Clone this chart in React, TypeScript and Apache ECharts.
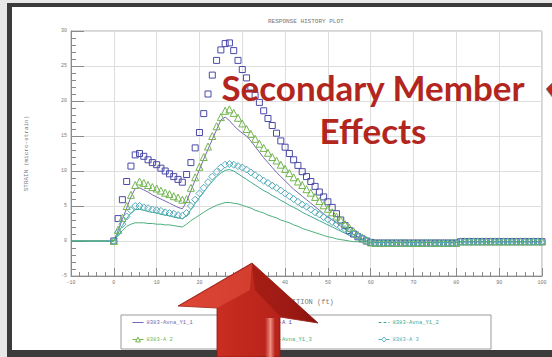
import React, { useEffect, useRef } from "react";
import * as echarts from "echarts";

// Text
const TITLE = "RESPONSE HISTORY PLOT";
const X_NAME = "POSITION (ft)";
const Y_NAME = "STRAIN (micro-strain)";
const NOTE_LINE_1 = "Secondary Member";
const NOTE_LINE_2 = "Effects";

// Axis ranges (ft / micro-strain)
const X_MIN = -10;
const X_MAX = 100;
const X_STEP = 10;
const Y_MIN = -5;
const Y_MAX = 30;
const Y_STEP = 5;

// Gauge traces are sampled every foot; lines start at -10 ft, marker traces at 0 ft
const LINE_START_FT = -10;
const MARKER_START_FT = 0;
const SAMPLE_FT = 1;

const NAMES = [
  "8383-Avna_Y1_1",
  "8383-A 1",
  "8383-Avna_Y1_2",
  "8383-A 2",
  "8383-Avna_Y1_3",
  "8383-A 3",
];

// 8383-Avna_Y1_1 (solid line), -10 .. 100 ft
const avnaY1_1 = [
  0, 0, 0, 0, 0, 0, 0, 0, 0, 0, 0,
  1.5, 3.1, 4.7, 6.3, 7.5, 7.6, 7.3, 7.0, 6.6, 6.3,
  6.0, 5.7, 5.4, 5.1, 4.8, 4.6, 5.6, 7.2, 8.7, 10.2,
  11.7, 13.1, 14.5, 15.9, 17.3, 17.7, 17.2, 16.5, 15.9, 15.4,
  15.0, 14.3, 13.5, 12.7, 11.9, 11.2, 10.5, 9.8, 9.2, 8.6,
  8.0, 7.4, 6.9, 6.4, 5.9, 5.4, 4.9, 4.4, 3.9, 3.4,
  3.0, 2.6, 2.1, 1.7, 1.3, 0.9, 0.6, 0.3, 0.0, -0.2,
  -0.2, -0.2, -0.2, -0.2, -0.2, -0.2, -0.2, -0.2, -0.2, -0.2,
  -0.2, -0.2, -0.2, -0.2, -0.2, -0.2, -0.2, -0.2, -0.2, -0.2,
  -0.1, -0.1, -0.1, -0.1, -0.1, -0.1, -0.1, -0.1, -0.1, -0.1,
  -0.1, -0.1, -0.1, -0.1, -0.1, -0.1, -0.1, -0.1, -0.1, -0.1,
];

// 8383-A 1 (squares), 0 .. 100 ft
const a1 = [
  0, 3.2, 5.9, 8.5, 10.7, 12.3, 12.5, 12.1, 11.6, 11.2, 10.9,
  10.4, 10.0, 9.6, 9.2, 8.8, 8.4, 9.5, 11.2, 13.3, 15.5,
  18.2, 21.0, 23.7, 25.8, 27.3, 28.2, 28.3, 27.2, 25.8, 24.5,
  23.3, 22.0, 20.8, 19.8, 18.6, 17.5, 16.5, 15.4, 14.3, 13.4,
  12.5, 11.6, 10.8, 9.9, 9.2, 8.5, 7.8, 7.0, 6.3, 5.6,
  4.8, 3.9, 3.0, 2.2, 1.5, 1.0, 0.6, 0.3, 0.0, -0.2,
  -0.3, -0.3, -0.3, -0.3, -0.3, -0.3, -0.3, -0.3, -0.3, -0.3,
  -0.3, -0.3, -0.3, -0.3, -0.3, -0.3, -0.3, -0.3, -0.3, -0.3,
  -0.1, -0.1, -0.1, -0.1, -0.1, -0.1, -0.1, -0.1, -0.1, -0.1,
  -0.1, -0.1, -0.1, -0.1, -0.1, -0.1, -0.1, -0.1, -0.1, -0.1,
];

// 8383-Avna_Y1_2 (line), -10 .. 100 ft
const avnaY1_2 = [
  0, 0, 0, 0, 0, 0, 0, 0, 0, 0, 0,
  1.1, 2.2, 3.2, 4.0, 4.5, 4.5, 4.4, 4.2, 4.1, 4.0,
  3.8, 3.7, 3.6, 3.4, 3.3, 3.2, 3.6, 4.5, 5.4, 6.2,
  7.0, 7.8, 8.5, 9.2, 9.7, 10.1, 10.2, 10.0, 9.6, 9.2,
  8.8, 8.4, 8.0, 7.6, 7.2, 6.9, 6.5, 6.2, 5.8, 5.5,
  5.1, 4.8, 4.5, 4.1, 3.8, 3.5, 3.2, 2.9, 2.6, 2.3,
  2.0, 1.7, 1.4, 1.1, 0.8, 0.6, 0.4, 0.2, 0.0, -0.2,
  -0.2, -0.2, -0.2, -0.2, -0.2, -0.2, -0.2, -0.2, -0.2, -0.2,
  -0.2, -0.2, -0.2, -0.2, -0.2, -0.2, -0.2, -0.2, -0.2, -0.2,
  -0.1, -0.1, -0.1, -0.1, -0.1, -0.1, -0.1, -0.1, -0.1, -0.1,
  -0.1, -0.1, -0.1, -0.1, -0.1, -0.1, -0.1, -0.1, -0.1, -0.1,
];

// 8383-A 2 (triangles), 0 .. 100 ft
const a2 = [
  0, 1.6, 3.3, 5.0, 6.6, 8.0, 8.5, 8.3, 8.0, 7.7, 7.5,
  7.2, 6.9, 6.7, 6.4, 6.2, 5.9, 6.0, 7.6, 9.1, 10.6,
  12.0, 13.5, 15.0, 16.4, 17.7, 18.6, 18.8, 18.3, 17.6, 16.8,
  16.0, 15.3, 14.6, 13.9, 13.3, 12.6, 12.0, 11.5, 10.9, 10.3,
  9.7, 9.1, 8.5, 8.0, 7.4, 6.9, 6.3, 5.7, 5.1, 4.6,
  4.1, 3.5, 3.0, 2.4, 1.9, 1.4, 0.9, 0.5, 0.1, -0.2,
  -0.25, -0.25, -0.25, -0.25, -0.25, -0.25, -0.25, -0.25, -0.25, -0.25,
  -0.25, -0.25, -0.25, -0.25, -0.25, -0.25, -0.25, -0.25, -0.25, -0.25,
  -0.05, -0.05, -0.05, -0.05, -0.05, -0.05, -0.05, -0.05, -0.05, -0.05,
  -0.05, -0.05, -0.05, -0.05, -0.05, -0.05, -0.05, -0.05, -0.05, -0.05,
];

// 8383-Avna_Y1_3 (line), -10 .. 100 ft
const avnaY1_3 = [
  0, 0, 0, 0, 0, 0, 0, 0, 0, 0, 0,
  0.8, 1.5, 2.1, 2.4, 2.6, 2.6, 2.6, 2.5, 2.5, 2.4,
  2.4, 2.3, 2.3, 2.2, 2.1, 2.0, 2.4, 2.9, 3.3, 3.7,
  4.1, 4.5, 4.8, 5.1, 5.3, 5.5, 5.5, 5.4, 5.3, 5.1,
  4.9, 4.7, 4.4, 4.2, 4.0, 3.7, 3.5, 3.3, 3.0, 2.8,
  2.6, 2.3, 2.1, 1.8, 1.6, 1.4, 1.2, 1.0, 0.8, 0.6,
  0.5, 0.3, 0.2, 0.1, 0.0, -0.1, -0.1, -0.1, -0.1, -0.2,
  -0.2, -0.2, -0.2, -0.2, -0.2, -0.2, -0.2, -0.2, -0.2, -0.2,
  -0.2, -0.2, -0.2, -0.2, -0.2, -0.2, -0.2, -0.2, -0.2, -0.2,
  -0.1, -0.1, -0.1, -0.1, -0.1, -0.1, -0.1, -0.1, -0.1, -0.1,
  -0.1, -0.1, -0.1, -0.1, -0.1, -0.1, -0.1, -0.1, -0.1, -0.1,
];

// 8383-A 3 (diamonds), 0 .. 100 ft
const a3 = [
  0, 1.2, 2.4, 3.5, 4.4, 5.0, 5.0, 4.8, 4.7, 4.5, 4.4,
  4.3, 4.1, 4.0, 3.9, 3.7, 3.6, 4.0, 5.0, 5.9, 6.8,
  7.6, 8.4, 9.2, 9.9, 10.5, 10.9, 11.0, 10.9, 10.7, 10.5,
  10.2, 9.8, 9.4, 9.0, 8.6, 8.3, 7.9, 7.6, 7.2, 6.8,
  6.4, 6.0, 5.6, 5.2, 4.9, 4.5, 4.1, 3.8, 3.4, 3.1,
  2.7, 2.4, 2.0, 1.7, 1.3, 1.0, 0.7, 0.4, 0.1, -0.2,
  -0.3, -0.3, -0.3, -0.3, -0.3, -0.3, -0.3, -0.3, -0.3, -0.3,
  -0.3, -0.3, -0.3, -0.3, -0.3, -0.3, -0.3, -0.3, -0.3, -0.3,
  -0.1, -0.1, -0.1, -0.1, -0.1, -0.1, -0.1, -0.1, -0.1, -0.1,
  -0.1, -0.1, -0.1, -0.1, -0.1, -0.1, -0.1, -0.1, -0.1, -0.1,
];

const COLORS = ["#7567b3", "#4b4aa8", "#3fa88e", "#72b64e", "#4bae7a", "#52acbb"];

const toPairs = (vals: number[], startFt: number) =>
  vals.map((v, i) => [startFt + i * SAMPLE_FT, v]);

const MONO = "'Liberation Mono', 'DejaVu Sans Mono', monospace";
const CALLOUT_FONT = "Lato, 'Open Sans', sans-serif";
const CALLOUT_RED = "#b3261e";
const CLEAR = "rgba(255,255,255,0)";

export default function App() {
  const ref = useRef<HTMLDivElement>(null);

  useEffect(() => {
    if (!ref.current) return;
    const chart = echarts.init(ref.current, undefined, { renderer: "svg" });

    const lineSeries = (name: string, vals: number[], color: string) => ({
      name,
      type: "line",
      data: toPairs(vals, LINE_START_FT),
      symbol: "none",
      lineStyle: { color, width: 1 },
      itemStyle: { color },
      z: 3,
    });

    const markerSeries = (
      name: string,
      vals: number[],
      color: string,
      symbol: string,
      size: number | number[]
    ) => ({
      name,
      type: "line",
      data: toPairs(vals, MARKER_START_FT),
      symbol,
      symbolSize: size,
      showSymbol: true,
      lineStyle: { width: 0, opacity: 0, color },
      itemStyle: { color: CLEAR, borderColor: color, borderWidth: 1 },
      z: 4,
    });

    // one legend block per entry, laid out as 3 columns x 2 rows
    const legendCols = [132, 251, 378];
    const legendRows = [319.5, 336.5];
    const legends = NAMES.map((name, i) => {
      const isMarker = i % 2 === 1;
      return {
        left: legendCols[i % 3],
        top: legendRows[Math.floor(i / 3)],
        padding: 0,
        itemWidth: 11,
        itemHeight: 6,
        selectedMode: false,
        data: [name],
        lineStyle: {
          width: 1,
          opacity: 1,
          color: COLORS[i],
          type: i === 2 ? [3, 2] : "solid",
        },
        itemStyle: isMarker
          ? { color: "#ffffff", borderColor: COLORS[i], borderWidth: 1, opacity: 1 }
          : { opacity: 0, borderWidth: 0 },
        textStyle: { fontSize: 5.5, fontFamily: MONO, color: COLORS[i], padding: [0, 0, 0, -2] },
      };
    });

    const calloutText = (text: string, y: number) => ({
      type: "text",
      z: 100,
      style: {
        text,
        x: 373,
        y,
        fill: CALLOUT_RED,
        fontSize: 35,
        fontWeight: "bold",
        fontFamily: CALLOUT_FONT,
        align: "center",
        textAlign: "center",
        verticalAlign: "middle",
        textVerticalAlign: "middle",
      },
    });

    chart.setOption({
      animation: false,
      title: {
        text: TITLE,
        left: 268,
        top: 18,
        padding: 0,
        textStyle: { fontSize: 6, fontFamily: MONO, color: "#777", fontWeight: "normal" },
      },
      grid: {
        left: 71,
        top: 31,
        width: 471,
        height: 245,
        show: true,
        borderColor: "#aaaaaa",
        borderWidth: 1,
        backgroundColor: "transparent",
      },
      legend: legends,
      xAxis: {
        type: "value",
        min: X_MIN,
        max: X_MAX,
        interval: X_STEP,
        name: X_NAME,
        nameLocation: "middle",
        nameGap: 22,
        nameTextStyle: { fontSize: 7, fontFamily: MONO, color: "#777" },
        axisLine: { show: true, onZero: false, lineStyle: { color: "#8a8a8a", width: 1 } },
        axisTick: { show: true, inside: true, length: 8, lineStyle: { color: "#8a8a8a" } },
        minorTick: { show: true, splitNumber: 5, length: 4, lineStyle: { color: "#8a8a8a" } },
        axisLabel: { fontSize: 5, fontFamily: MONO, color: "#777", margin: 4 },
        splitLine: { show: true, lineStyle: { color: "#dedede", width: 1 } },
      },
      yAxis: {
        type: "value",
        min: Y_MIN,
        max: Y_MAX,
        interval: Y_STEP,
        name: Y_NAME,
        nameLocation: "middle",
        nameGap: 42,
        nameTextStyle: { fontSize: 6, fontFamily: MONO, color: "#777" },
        axisLine: { show: true, onZero: false, lineStyle: { color: "#8a8a8a", width: 1 } },
        axisTick: { show: true, inside: true, length: 13, lineStyle: { color: "#8a8a8a" } },
        minorTick: { show: true, splitNumber: 5, length: 5, lineStyle: { color: "#8a8a8a" } },
        axisLabel: { fontSize: 5, fontFamily: MONO, color: "#777", margin: 4 },
        splitLine: { show: true, lineStyle: { color: "#dedede", width: 1 } },
      },
      series: [
        lineSeries(NAMES[0], avnaY1_1, COLORS[0]),
        markerSeries(NAMES[1], a1, COLORS[1], "rect", 6),
        lineSeries(NAMES[2], avnaY1_2, COLORS[2]),
        markerSeries(NAMES[3], a2, COLORS[3], "triangle", 7),
        lineSeries(NAMES[4], avnaY1_3, COLORS[4]),
        markerSeries(NAMES[5], a3, COLORS[5], "diamond", [7, 7]),
      ],
      graphic: {
        elements: [
          // legend frame
          {
            type: "rect",
            shape: { x: 121, y: 315, width: 370, height: 34 },
            style: { fill: "none", stroke: "#9a9a9a", lineWidth: 1 },
            z: 1,
          },
          // callout text
          calloutText(NOTE_LINE_1, 87),
          calloutText(NOTE_LINE_2, 130),
          // big up arrow
          {
            type: "polygon",
            z: 100,
            shape: {
              points: [
                [252, 263],
                [318, 323],
                [280, 317],
                [280, 357],
                [217, 357],
                [217, 308],
                [178, 306],
              ],
            },
            style: {
              fill: new echarts.graphic.LinearGradient(0, 0, 1, 0, [
                { offset: 0, color: "#d33627" },
                { offset: 0.45, color: "#c2291d" },
                { offset: 0.8, color: "#b2211a" },
                { offset: 1, color: "#94170f" },
              ]),
              stroke: "#8e1810",
              lineWidth: 0.8,
            },
          },
          {
            type: "polygon",
            z: 101,
            shape: { points: [[252, 264], [180, 306], [217, 308], [250, 290]] },
            style: { fill: "rgba(236,92,72,0.45)" },
          },
          {
            type: "polygon",
            z: 101,
            shape: { points: [[252, 264], [317, 322], [280, 316], [255, 290]] },
            style: { fill: "rgba(110,10,5,0.3)" },
          },
          {
            type: "rect",
            z: 101,
            shape: { x: 265, y: 318, width: 10, height: 39 },
            style: {
              fill: new echarts.graphic.LinearGradient(0, 0, 1, 0, [
                { offset: 0, color: "rgba(250,150,140,0)" },
                { offset: 0.55, color: "rgba(250,160,150,0.85)" },
                { offset: 1, color: "rgba(250,150,140,0)" },
              ]),
            },
          },
          // partial arrow at the right edge
          {
            type: "polygon",
            z: 100,
            shape: { points: [[546, 89], [553, 82], [553, 98]] },
            style: { fill: "#c0281c", stroke: "#888", lineWidth: 0.8 },
          },
        ],
      },
    });

    return () => chart.dispose();
  }, []);

  return (
    <div style={{ position: "fixed", left: 0, top: 0, width: 552, height: 357, background: "#e8e8e8", overflow: "hidden" }}>
      <div style={{ position: "absolute", left: 7, top: 3, right: 0, bottom: 0, background: "#3b3b3b" }} />
      <div style={{ position: "absolute", left: 12, top: 7, right: 0, height: 343, background: "#ffffff" }} />
      <div ref={ref} style={{ position: "absolute", left: 0, top: 0, width: 552, height: 357 }} />
    </div>
  );
}
